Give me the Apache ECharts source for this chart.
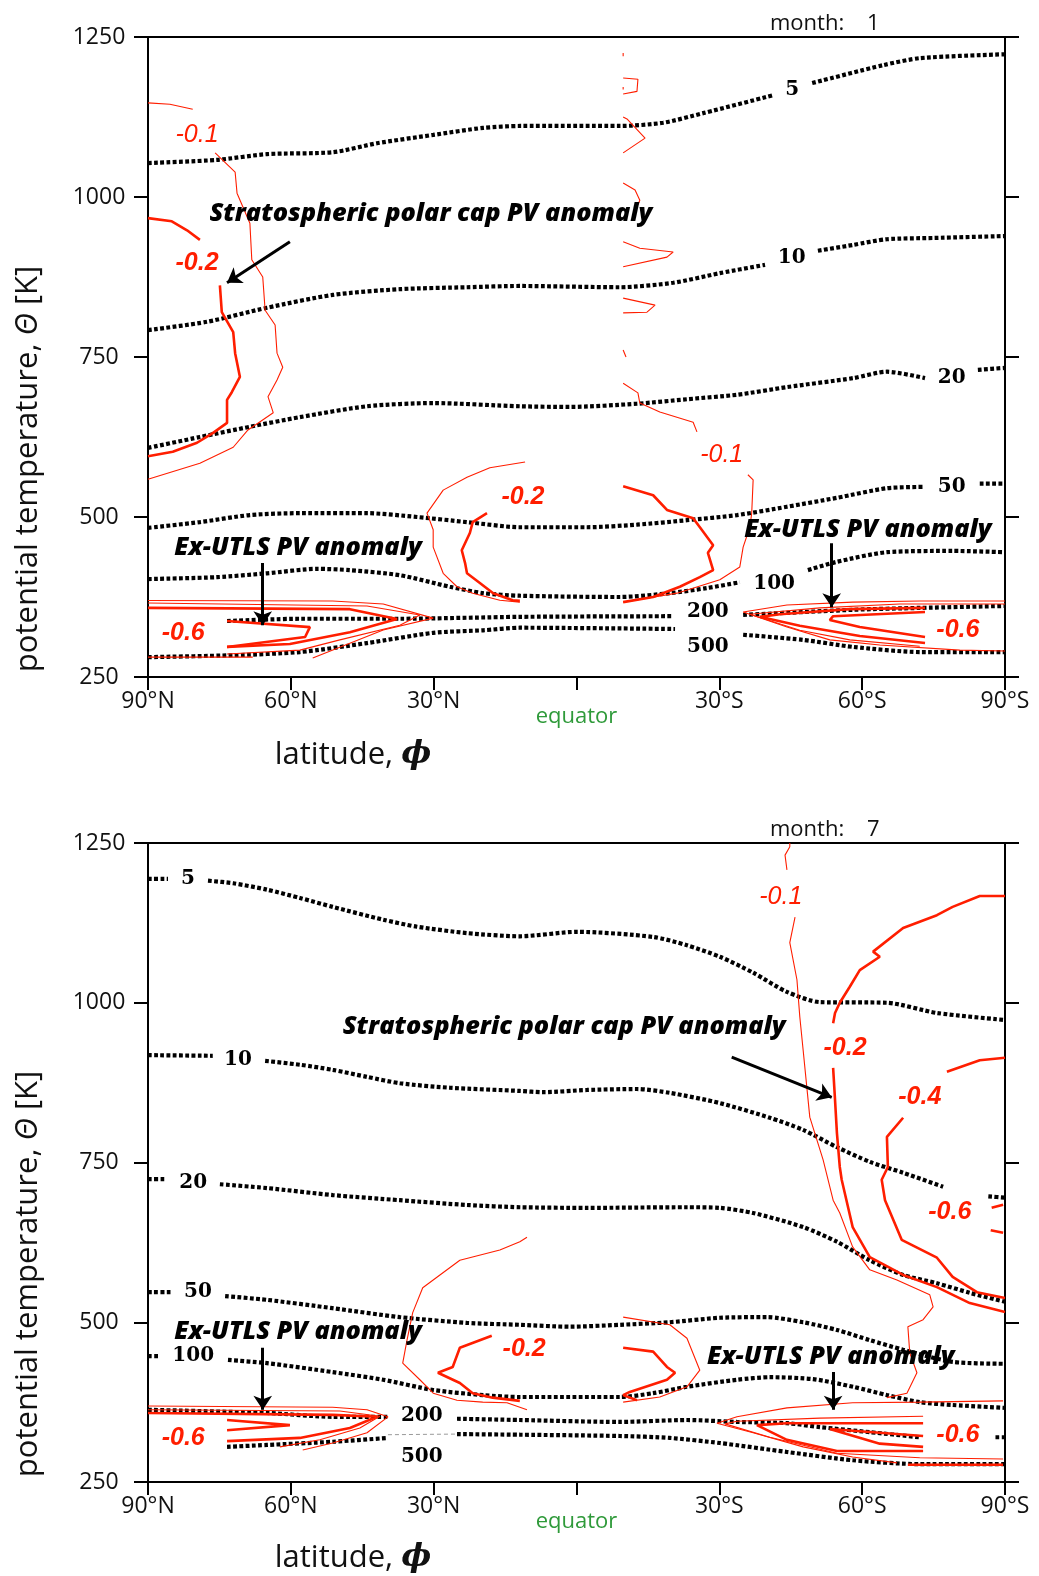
<!DOCTYPE html>
<html>
<head>
<meta charset="utf-8">
<script src="https://cdn.jsdelivr.net/npm/echarts@6/dist/echarts.min.js"></script>
<style>
  html, body { margin: 0; padding: 0; background: #fff; }
  #c { width: 1039px; height: 1576px; }
</style>
</head>
<body>
<div id="c"></div>
<script>
// Zonal-mean PV isolines (dotted, PVU) and PV anomaly contours (red) on
// latitude / potential-temperature sections. Points are [latitude, theta];
// null breaks a line (gap for an inline label).

// ---------- month 1 : PV isolines ----------
const jan_pv5 = [[90,1053],[75.5,1058],[65,1067],[51.1,1070],[41.9,1084],[30.1,1097],[19.6,1108],[11.8,1111],[-9.2,1111],[-18.2,1116],[-26.6,1131],[-41.3,1159], null, [-49.5,1178],[-64.4,1206],[-72.2,1217],[-90,1223]];
const jan_pv10 = [[90,792],[77.6,805],[65,827],[51.2,847],[37.1,856],[23,859],[11.9,861],[-9.1,859],[-20.3,866],[-30.1,881],[-39.6,894], null, [-50.7,916],[-58,925],[-65.2,934],[-74.9,936],[-90,939]];
const jan_pv20 = [[90,608],[79.1,625],[68.6,641],[58.1,656],[44,673],[30.1,678],[11.9,673],[1.4,672],[-12.7,677],[-23.2,684],[-33.7,691],[-44.2,703],[-58.1,717],[-65.2,727],[-73.2,717], null, [-84.3,730],[-90,733]];
const jan_pv50 = [[90,483],[79.1,492],[68.6,503],[58.1,506],[44,506],[33.5,500],[23,492],[11.9,484],[-2.2,484],[-12.7,488],[-23.2,495],[-33.7,503],[-44.2,516],[-54.7,530],[-65.2,545],[-72.8,547], null, [-84.7,552],[-90,552]];
const jan_pv100 = [[90,403],[75.5,406],[65,412],[54.5,419],[47.6,417],[37.1,409],[26.6,391],[19.6,381],[11.9,377],[-9.1,375],[-19.6,381],[-27.4,389],[-34.3,398], null, [-48.6,417],[-54.7,430],[-65.2,445],[-79,447],[-90,445]];
const jan_pv200 = [[73.4,337.5],[58.1,341],[37.1,341],[11.9,344],[-20.3,345], null, [-35,347],[-58.1,355],[-72.2,358],[-90,361]];
const jan_pv500 = [[90,281],[72.1,284],[58.1,289],[44,303],[30.1,319],[19.6,323],[11.9,327],[-20.7,325], null, [-35,316],[-47.6,308],[-58.1,297],[-72.2,289],[-90,289]];
const jan_pvLabels = [[-45.3,1167,'5'],[-45.2,905,'10'],[-78.8,717,'20'],[-78.8,547,'50'],[-41.5,395,'100'],[-27.6,352,'200'],[-27.6,297,'500']];

// ---------- month 1 : PV anomaly contours ----------
const jan_a01_np = [[90,1147],[85.4,1145],[80.6,1137], null, [75.9,1069],[71.7,1039],[71.3,1006],[68.6,959],[68.2,902],[65.9,875],[65.4,823],[63.3,800],[62.9,756],[61.7,734],[62.9,714],[64.8,688],[63.7,663],[69,636],[72.1,609],[79.1,584],[90,559]];
const jan_a02_np = [[90,967],[85,962],[81.8,948],[79.1,933], null, [74.9,862],[74.5,820],[72.1,789],[71.7,756],[70.7,719],[72.4,695],[73.4,683],[73.4,647],[76.4,631],[79.7,616],[84.8,602],[90,595]];
const jan_a01_eqL = [[10.8,586],[18.2,577],[23,562],[28,542],[31.4,506],[30.1,480],[30.1,453],[28,412],[25.1,391],[21.8,381],[16.1,370],[11.9,367]];
const jan_a02_eqL = [[18.8,506],[21.8,492],[22.4,475],[24.1,448],[23.4,428],[23,412],[20.3,397],[17.5,381],[13.4,370],[11.9,369]];
const jan_a02_eqR = [[-9.8,548],[-16.1,534],[-19,511],[-24.5,498],[-26.3,480],[-28.7,456],[-27.6,444],[-28.7,417],[-25.9,406],[-21.7,391],[-16.1,375],[-9.8,367]];
const jan_a01_eqR = [[-9.8,709],[-12.9,694],[-13.3,678],[-17.5,664],[-24.5,648],[-25.3,633], null, [-36,566],[-37.1,558],[-36.8,506],[-36.4,484],[-35,453],[-34.3,422],[-30.1,402],[-21.1,381],[-9.8,367]];
const jan_a01_eqBits = [[-9.8,1225],[-9.8,1220], null, [-9.8,1186],[-12.9,1184],[-12.7,1165],[-9.8,1161], null, [-9.8,1172],[-9.8,1168], null, [-9.8,1125],[-10.6,1122],[-14.4,1092],[-9.8,1069], null, [-9.8,1022],[-12.3,1011],[-13.3,995],[-12.9,988], null, [-9.8,930],[-13.3,920],[-20.3,914],[-19,906],[-9.8,891], null, [-9.8,842],[-16.5,831],[-14.8,820],[-9.8,819], null, [-9.8,761],[-10.4,750]];
const jan_utlsN_a = [[90,369.5],[51.2,368.8],[40.6,364],[30.1,342],[40.6,323.4],[55.4,279.7]];
const jan_utlsN_b = [[90,365.6],[44,361],[32.9,347],[37.1,331],[49.7,308],[58.1,292],[73.4,286]];
const jan_utlsN_c = [[90,358],[47.6,356],[37.7,340.6],[47.6,320],[60.2,301.5],[73.4,297]];
const jan_utlsN_d = [[73.4,337.5],[56,328],[57,312.5],[73.4,297]];
const jan_utlsN_e = [[90,281],[68,281]];
const jan_utlsS_a = [[-90,368.8],[-72.1,368.8],[-58,367],[-44.2,362.5],[-35,351.5],[-44.2,328],[-53.2,308],[-63.7,300],[-80.5,292],[-90,290.6]];
const jan_utlsS_b = [[-90,364],[-67.9,364],[-51.1,358],[-36.4,348],[-46.9,323],[-57.4,308],[-72.1,298]];
const jan_utlsS_c = [[-73.2,358],[-57.4,356],[-42.7,348],[-38.5,344],[-46.9,330],[-59.5,314],[-73.2,303]];
const jan_utlsS_d = [[-73.2,351.5],[-53.9,345],[-53.2,339],[-59.5,328],[-73.2,312.5]];
const jan_anomLabels = [[79.7,1097,'-0.1'],[79.7,897,'-0.2'],[11.25,531,'-0.2'],[-30.5,597,'-0.1'],[82.6,319,'-0.6'],[-80.1,323,'-0.6']];
const jan_notes = [[30.6,973,'Stratospheric polar cap PV anomaly'],[58.5,452,'Ex-UTLS PV anomaly'],[-61.2,480,'Ex-UTLS PV anomaly']];
const jan_arrows = [[[60.2,930],[73.4,866]],[[65.9,428],[65.9,331]],[[-53.6,459],[-53.6,359]]];

// ---------- month 7 : PV isolines ----------
const jul_pv5 = [[90,1194],[85.8,1194], null, [77.4,1191],[72.1,1187],[65,1177],[58.1,1164],[51.2,1150],[40.6,1130],[33.5,1119],[23,1109],[11.9,1104],[-0.1,1111],[-16.1,1103],[-23.2,1090],[-30.1,1072],[-37.1,1047],[-44.2,1017],[-51.1,1001],[-65.2,1000],[-75.7,984],[-90,973]];
const jul_pv10 = [[90,918],[76.4,917], null, [65.4,909],[58.1,903],[51.2,895],[44,884],[37.1,874],[26.6,867],[11.9,862],[7,860],[-2.2,863.5],[-12.7,865],[-19.6,859],[-30.1,843],[-40.6,820],[-47.6,801],[-54.7,774],[-61.6,751],[-68.6,734],[-77,712], null, [-86.5,697],[-90,695]];
const jul_pv20 = [[90,724],[86.4,724], null, [74.9,716],[65,710],[51.2,699],[37.1,691],[23,683.5],[11.9,680],[-2.2,679],[-23.2,680],[-30.1,679],[-37.1,671],[-47.6,649],[-54.7,626],[-61.6,597],[-68.6,574],[-75.7,561],[-82.6,546],[-90,532]];
const jul_pv50 = [[90,547],[85,547], null, [73.8,541],[65,535],[51.2,522],[37.1,508],[23,499],[11.9,496],[1.4,493],[-9.1,496],[-19.6,500],[-30.1,507],[-40,508],[-47.6,500],[-54.7,488],[-61.6,472],[-68.6,457],[-79,438],[-90,435]];
const jul_pv100 = [[90,447],[87.5,447], null, [73.2,441],[65,436],[51.2,422],[40.6,410],[30.1,394],[19.6,386],[11.9,383],[-9.1,383],[-16.1,389],[-23.2,399],[-33.7,410],[-40.6,414],[-49.7,411],[-58.1,399],[-65.2,386],[-72.1,375],[-79,370.5],[-90,366]];
const jul_pv200 = [[90,363],[65,358],[51.2,352],[39.6,352], null, [25.1,349],[11.9,347],[-9.1,344],[-23.2,347],[-33.7,344],[-44.2,342],[-51.1,336],[-61.6,328],[-72.1,320], null, [-88,320],[-90,320]];
const jul_pv500 = [[73.4,305],[65,308],[51.2,313],[39.6,319], null, [25.1,325],[11.9,324],[-9.1,322],[-19.6,319],[-30.1,311],[-44.2,297],[-58.1,284],[-72.1,278],[-90,278]];
const jul_pvLabels = [[81.6,1194,'5'],[71.1,910,'10'],[80.5,719,'20'],[79.5,547,'50'],[80.5,447,'100'],[32.5,353,'200'],[32.5,289,'500']];
const jul_pv500gap = [[39.6,324],[25.1,325]];

// ---------- month 7 : PV anomaly contours ----------
const jul_a01_sp = [[-44.8,1250],[-44.8,1244],[-43.8,1231],[-44.2,1208], null, [-45.9,1134],[-44.8,1094],[-46.3,1036],[-46.9,978],[-47.6,926],[-49,821],[-51.8,754],[-53.9,691],[-55.3,671],[-58,618],[-61.6,582],[-67.3,566],[-74.2,543],[-74.9,524],[-72.8,504],[-69.6,493],[-70,452],[-71.5,421],[-69.4,389],[-65.2,382]];
const jul_a02_sp = [[-90,1167],[-84.7,1167],[-79,1150],[-75.7,1137],[-68.6,1117],[-62.3,1080],[-63.7,1072],[-59.5,1051],[-57.4,1025],[-55.3,1000],[-54.3,984],[-53.9,968], null, [-53.9,898],[-54.3,848],[-54.7,796],[-55.3,743],[-55.7,723],[-58,649],[-61.6,602],[-68.6,574],[-75.7,555],[-82.6,530],[-90,516]];
const jul_a04_sp = [[-90,914],[-84.7,910],[-77.8,892], null, [-68.6,820],[-65.2,790],[-65.4,743],[-64.1,723],[-64.8,691],[-68.3,629],[-75.7,601],[-79,571],[-84.1,547],[-90,538]];
const jul_a06_sp = [[-87.2,679],[-89.6,684], null, [-87,644],[-89.6,640]];
const jul_a01_eqL = [[10.4,633],[11.9,626],[16.1,613],[24.5,597],[32.3,554],[34.4,515],[35.6,472],[36.5,436],[32.9,410],[30.1,389],[25.1,378],[19.7,375],[14.6,374],[10.4,363]];
const jul_a02_eqL = [[17.8,479],[24.5,460],[26,430],[29.1,421],[24.5,405],[21.8,389],[17.6,382],[11.9,377]];
const jul_a02_eqR = [[-9.8,460],[-16.1,454],[-19,430],[-20.7,421],[-19,410],[-11.2,391],[-9.8,386],[-12.7,378]];
const jul_a01_eqR = [[-9.8,508],[-19.6,496],[-23.2,475],[-25.9,425],[-23.2,399],[-17.5,383],[-9.8,375]];
const jul_utlsN_a = [[90,369],[51.2,367],[44,363],[39.6,352],[44,327],[51.2,311],[57.5,300]];
const jul_utlsN_b = [[90,363],[49.7,361],[41.3,353],[45.5,334.5],[53.9,316],[62.3,305]];
const jul_utlsN_c = [[90,358],[51.2,355],[41.9,352],[47.6,334.5],[58.1,319],[73.4,314]];
const jul_utlsN_d = [[73.4,347],[60.2,339],[73.4,331]];
const jul_utlsS_a = [[-89.6,377],[-72.1,375],[-58,374],[-44.2,366],[-33.7,352],[-29.5,342],[-37.1,327],[-47.6,305],[-58,289],[-67.3,280]];
const jul_utlsS_b = [[-72.8,353],[-51.1,350],[-33.7,345],[-31.2,341],[-40.6,320],[-54.7,295],[-72.1,288],[-89.6,286]];
const jul_utlsS_c = [[-72.8,342],[-44.2,342],[-37.9,339],[-44.2,316],[-54.7,298.5],[-72.8,298.5]];
const jul_utlsS_d = [[-72.8,322],[-53.2,333],[-63.7,310],[-72.8,305]];
const jul_utlsS_e = [[-69.6,277],[-89.6,277]];
const jul_anomLabels = [[-42.9,1166,'-0.1'],[-56.4,929,'-0.2'],[-72.1,853,'-0.4'],[-78.4,673,'-0.6'],[11,458,'-0.2'],[82.6,319,'-0.6'],[-80.1,324,'-0.6']];
const jul_notes = [[2.6,962,'Stratospheric polar cap PV anomaly'],[58.5,485,'Ex-UTLS PV anomaly'],[-53.4,446,'Ex-UTLS PV anomaly']];
const jul_arrows = [[[-32.6,915],[-53.6,852]],[[65.9,460],[65.9,363]],[[-53.9,422],[-53.9,363]]];

// ---------- axes ----------
const latTicks = [90, 60, 30, 0, -30, -60, -90];
const thetaTicks = [250, 500, 750, 1000, 1250];
const months = [1, 7];

const panels = [
  {
    pv: [jan_pv5, jan_pv10, jan_pv20, jan_pv50, jan_pv100, jan_pv200, jan_pv500],
    pvLabels: jan_pvLabels,
    thin: [jan_a01_np, jan_a01_eqL, jan_a01_eqR, jan_a01_eqBits, jan_utlsN_a, jan_utlsN_b, jan_utlsN_e, jan_utlsS_a, jan_utlsS_b],
    thick: [jan_a02_np, jan_a02_eqL, jan_a02_eqR, jan_utlsN_c, jan_utlsN_d, jan_utlsS_c, jan_utlsS_d],
    faint: [],
    anomLabels: jan_anomLabels, notes: jan_notes, arrows: jan_arrows
  },
  {
    pv: [jul_pv5, jul_pv10, jul_pv20, jul_pv50, jul_pv100, jul_pv200, jul_pv500],
    pvLabels: jul_pvLabels,
    thin: [jul_a01_sp, jul_a01_eqL, jul_a01_eqR, jul_utlsN_a, jul_utlsN_b, jul_utlsS_a, jul_utlsS_b],
    thick: [jul_a02_sp, jul_a04_sp, jul_a06_sp, jul_a02_eqL, jul_a02_eqR, jul_utlsN_c, jul_utlsN_d, jul_utlsS_c, jul_utlsS_d, jul_utlsS_e],
    faint: [jul_pv500gap],
    anomLabels: jul_anomLabels, notes: jul_notes, arrows: jul_arrows
  }
];

const SANS = "'Open Sans', 'Noto Sans', sans-serif";
const RED = '#ff1e00';
const INK = '#111';
const gridBoxes = [
  { left: 148, top: 37, width: 857, height: 640 },
  { left: 148, top: 843, width: 857, height: 639 }
];

function latLabel(v) {
  if (v === 0) return '{eq|equator}';
  return Math.abs(v) + '°' + (v > 0 ? 'N' : 'S');
}

function splitAtNull(arr) {
  const out = []; let cur = [];
  arr.forEach(p => {
    if (p === null) { if (cur.length) out.push(cur); cur = []; }
    else cur.push(p);
  });
  if (cur.length) out.push(cur);
  return out;
}

const axisLine = { show: true, onZero: false, lineStyle: { color: '#000', width: 2 } };
const tickStyle = { color: '#000', width: 2 };
const plainText = { textBorderWidth: 0, textShadowBlur: 0, opacity: 1 };

const xAxis = [], yAxis = [], series = [], titles = [], graphics = [];

panels.forEach((p, g) => {
  xAxis.push({
    gridIndex: g, type: 'value', min: -90, max: 90, interval: 30, inverse: true, position: 'bottom',
    axisLine, axisTick: { show: true, length: 13, lineStyle: tickStyle }, splitLine: { show: false },
    axisLabel: {
      margin: 13, fontFamily: SANS, fontSize: 23, color: INK, showMinLabel: true, showMaxLabel: true,
      formatter: latLabel,
      rich: { eq: { color: '#2f9a3a', fontFamily: SANS, fontSize: 22, padding: [16, 0, 0, 0] } }
    }
  });
  xAxis.push({
    gridIndex: g, type: 'value', min: -90, max: 90, interval: 30, inverse: true, position: 'top',
    axisLine, axisTick: { show: false }, axisLabel: { show: false }, splitLine: { show: false }
  });
  yAxis.push({
    gridIndex: g, type: 'value', min: 250, max: 1250, interval: 250, position: 'left',
    axisLine, axisTick: { show: true, length: 14, lineStyle: tickStyle }, splitLine: { show: false },
    axisLabel: { margin: 49, align: 'center', fontFamily: SANS, fontSize: 23, color: INK, showMinLabel: true, showMaxLabel: true, formatter: v => String(v) }
  });
  yAxis.push({
    gridIndex: g, type: 'value', min: 250, max: 1250, interval: 250, position: 'right',
    axisLine, axisTick: { show: true, length: 14, lineStyle: tickStyle }, splitLine: { show: false },
    axisLabel: { show: false }
  });

  const ax = { xAxisIndex: 2 * g, yAxisIndex: 2 * g };
  const addLines = (arrs, style, smooth, z) => {
    arrs.forEach(arr => splitAtNull(arr).forEach(seg => {
      series.push(Object.assign({
        type: 'line', data: seg, showSymbol: false, symbol: 'none', smooth: smooth,
        lineStyle: style, silent: true, animation: false, z: z
      }, ax));
    }));
  };
  addLines(p.pv, { color: '#000', width: 4.2, type: [3.8, 2.4], cap: 'butt' }, 0.25, 2);
  addLines(p.faint, { color: '#9a9a9a', width: 1, type: [4, 3] }, false, 2);
  addLines(p.thin, { color: RED, width: 1.1 }, false, 3);
  addLines(p.thick, { color: RED, width: 2.6 }, false, 3);

  // PV isoline values
  series.push(Object.assign({
    type: 'scatter', symbolSize: 1, itemStyle: { color: 'rgba(0,0,0,0)' }, silent: true, animation: false, z: 6,
    data: p.pvLabels.map(d => ({ value: [d[0], d[1]], name: d[2] })),
    label: Object.assign({ show: true, position: 'inside', formatter: '{b}', fontFamily: "'DejaVu Serif', serif", fontWeight: 'bold', fontSize: 20, color: '#000' }, plainText)
  }, ax));
  // anomaly contour values
  series.push(Object.assign({
    type: 'scatter', symbolSize: 1, itemStyle: { color: 'rgba(0,0,0,0)' }, silent: true, animation: false, z: 6,
    data: p.anomLabels.map(d => ({ value: [d[0], d[1]], name: d[2], label: { fontWeight: d[2] === '-0.1' ? 'normal' : 'bold' } })),
    label: Object.assign({ show: true, position: 'inside', formatter: '{b}', fontFamily: "'Liberation Sans', Arial, sans-serif", fontStyle: 'italic', fontSize: 25, color: RED }, plainText)
  }, ax));
  // annotations
  series.push(Object.assign({
    type: 'scatter', symbolSize: 1, itemStyle: { color: 'rgba(0,0,0,0)' }, silent: true, animation: false, z: 7,
    data: p.notes.map(d => ({ value: [d[0], d[1]], name: d[2] })),
    label: Object.assign({ show: true, position: 'inside', formatter: '{b}', fontFamily: SANS, fontStyle: 'italic', fontWeight: 800, fontSize: 25.3, color: '#000' }, plainText)
  }, ax));
  series.push(Object.assign({
    type: 'lines', coordinateSystem: 'cartesian2d', silent: true, animation: false, z: 7,
    symbol: ['none', 'arrow'], symbolSize: 14,
    lineStyle: { color: '#000', width: 3, opacity: 1, curveness: 0 },
    data: p.arrows.map(a => ({ coords: a }))
  }, ax));

  const box = gridBoxes[g];
  titles.push({
    text: 'month:    ' + months[g], left: 765, top: box.top - 29,
    textStyle: { fontFamily: SANS, fontSize: 22, fontWeight: 'normal', color: INK }
  });
  graphics.push({
    type: 'text', x: 28, y: g === 0 ? 469 : 1274, rotation: Math.PI / 2,
    style: {
      text: 'potential temperature, {i|Θ} [K]', align: 'center', verticalAlign: 'middle',
      font: "31px 'Open Sans', sans-serif", fill: INK,
      rich: { i: { fontStyle: 'italic', fontSize: 31, fontFamily: "'Open Sans', sans-serif" } }
    }
  });
  graphics.push({
    type: 'text', x: 353, y: g === 0 ? 755 : 1558,
    style: {
      text: 'latitude, {i|ϕ}', align: 'center', verticalAlign: 'middle',
      font: "31px 'Open Sans', sans-serif", fill: INK,
      rich: { i: { fontStyle: 'italic', fontWeight: 'bold', fontSize: 32, fontFamily: "'DejaVu Serif', serif" } }
    }
  });
});

const chart = echarts.init(document.getElementById('c'), null, { renderer: 'canvas' });
chart.setOption({
  animation: false,
  backgroundColor: '#fff',
  title: titles,
  grid: gridBoxes.map(b => Object.assign({ containLabel: false, outerBoundsMode: 'none' }, b)),
  xAxis, yAxis, series,
  graphic: graphics
});
</script>
</body>
</html>
